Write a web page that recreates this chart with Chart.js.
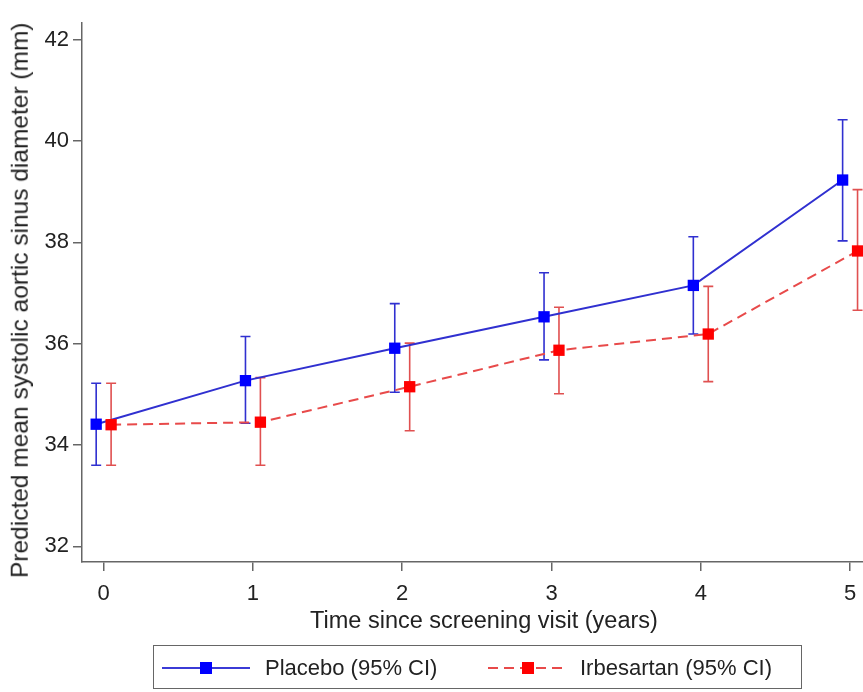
<!DOCTYPE html>
<html>
<head>
<meta charset="utf-8">
<script src="https://cdn.jsdelivr.net/npm/chart.js@4.4.1/dist/chart.umd.min.js"></script>
<style>
  html, body { margin: 0; padding: 0; background: #fff; overflow: hidden; }
  #wrap { position: relative; width: 863px; height: 692px; overflow: hidden;
          font-family: "Liberation Sans", Arial, sans-serif; color: #222; }
  #chart { position: absolute; left: 0; top: 0; }
  .xtitle { position: absolute; left: 184px; top: 609px; width: 600px; text-align: center;
            font-size: 23.5px; line-height: 23.5px; white-space: nowrap; }
  .ytitle { position: absolute; left: -280.5px; top: 287.75px; width: 600px; height: 24.5px; text-align: center;
            font-size: 24.5px; line-height: 24.5px; white-space: nowrap; transform: rotate(-90deg); }
  .legend { position: absolute; left: 153px; top: 645px; width: 649px; height: 44px; box-sizing: border-box;
            border: 1px solid #666; font-size: 22px; }
  .legend svg { position: absolute; top: 14px; }
  .legend span { position: absolute; top: 9px; white-space: nowrap; }
</style>
</head>
<body>
<div id="wrap">
  <canvas id="chart" width="890" height="640"></canvas>
  <div class="xtitle">Time since screening visit (years)</div>
  <div class="ytitle">Predicted mean systolic aortic sinus diameter (mm)</div>
  <div class="legend">
    <svg style="left:8px" width="88" height="16"><line x1="0" y1="8" x2="88" y2="8" stroke="#3b3bd6" stroke-width="2"/><rect x="38" y="2" width="12" height="12" fill="#0000ff"/></svg>
    <span style="left:111px">Placebo (95% CI)</span>
    <svg style="left:334px" width="80" height="16"><line x1="0" y1="8" x2="80" y2="8" stroke="#e84a4a" stroke-width="2" stroke-dasharray="10 6"/><rect x="34" y="2" width="12" height="12" fill="#ff0000"/></svg>
    <span style="left:426px">Irbesartan (95% CI)</span>
  </div>
</div>
<script>
// dados
const years = [0, 1, 2, 3, 4, 5];
const placeboMean = [34.41, 35.27, 35.91, 36.53, 37.15, 39.23];
const placeboLow  = [33.60, 34.43, 35.04, 35.68, 36.19, 38.03];
const placeboHigh = [35.22, 36.14, 36.79, 37.40, 38.11, 40.42];
const irbMean = [34.40, 34.45, 35.15, 35.87, 36.19, 37.83];
const irbLow  = [33.60, 33.60, 34.28, 35.01, 35.25, 36.66];
const irbHigh = [35.22, 35.33, 36.01, 36.72, 37.13, 39.04];
const xTicks = [0, 1, 2, 3, 4, 5];
const yTicks = [32, 34, 36, 38, 40, 42];
const dodge = 0.05; // deslocamento horizontal entre os grupos

const FONT = '"Liberation Sans", Arial, sans-serif';
const AXIS = '#666';

function points(mean, low, high, shift) {
  return years.map((t, i) => ({ x: t + shift, y: mean[i], lo: low[i], hi: high[i] }));
}

// barras de erro (IC 95%) desenhadas pelas escalas do gráfico
const errorBars = {
  id: 'errorBars',
  beforeDatasetsDraw(chart) {
    const { ctx, scales: { x, y } } = chart;
    chart.data.datasets.forEach(ds => {
      ctx.save();
      ctx.strokeStyle = ds.barColor;
      ctx.lineWidth = 1.6;
      ds.data.forEach(p => {
        const px = x.getPixelForValue(p.x);
        const top = y.getPixelForValue(p.hi);
        const bot = y.getPixelForValue(p.lo);
        ctx.beginPath();
        ctx.moveTo(px, top); ctx.lineTo(px, bot);
        ctx.moveTo(px - 5, top); ctx.lineTo(px + 5, top);
        ctx.moveTo(px - 5, bot); ctx.lineTo(px + 5, bot);
        ctx.stroke();
      });
      ctx.restore();
    });
  }
};

new Chart(document.getElementById('chart'), {
  type: 'scatter',
  data: {
    datasets: [
      {
        label: 'Placebo (95% CI)',
        data: points(placeboMean, placeboLow, placeboHigh, -dodge),
        showLine: true,
        borderColor: '#3030d0',
        borderWidth: 2,
        backgroundColor: '#0000ff',
        pointBackgroundColor: '#0000ff',
        pointBorderWidth: 0,
        pointStyle: 'rect',
        pointRadius: 8,
        barColor: '#3030d0',
        order: 1
      },
      {
        label: 'Irbesartan (95% CI)',
        data: points(irbMean, irbLow, irbHigh, dodge),
        showLine: true,
        borderColor: '#e84a4a',
        borderWidth: 2,
        borderDash: [10, 6],
        backgroundColor: '#ff0000',
        pointBackgroundColor: '#ff0000',
        pointBorderWidth: 0,
        pointStyle: 'rect',
        pointRadius: 8,
        barColor: '#e05050',
        order: 0
      }
    ]
  },
  options: {
    responsive: false,
    animation: false,
    layout: { padding: { top: 23, right: 22, left: 0, bottom: 0 } },
    plugins: { legend: { display: false }, tooltip: { enabled: false } },
    scales: {
      x: {
        type: 'linear',
        min: -0.145,
        max: 5.12,
        afterBuildTicks: s => { s.ticks = xTicks.map(v => ({ value: v })); },
        afterFit: s => { s.height = 78; },
        border: { color: AXIS, width: 1.5 },
        grid: { drawOnChartArea: false, tickLength: 9, color: AXIS, lineWidth: 1.5 },
        ticks: { padding: 10, color: '#222', font: { family: FONT, size: 22 } }
      },
      y: {
        min: 31.69,
        max: 42.33,
        afterBuildTicks: s => { s.ticks = yTicks.map(v => ({ value: v })); },
        afterFit: s => { s.width = 82; },
        border: { color: AXIS, width: 1.5 },
        grid: { drawOnChartArea: false, tickLength: 9, color: AXIS, lineWidth: 1.5 },
        ticks: { padding: 4, color: '#222', font: { family: FONT, size: 22 } }
      }
    }
  },
  plugins: [errorBars]
});
</script>
</body>
</html>
